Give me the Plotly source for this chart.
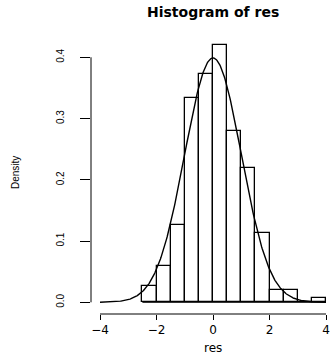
import plotly.graph_objects as go
import numpy as np

# Histogram data (bin edges and counts), n = 300
bin_edges = [-2.5, -2.0, -1.5, -1.0, -0.5, 0.0, 0.5, 1.0, 1.5, 2.0, 2.5, 3.0, 3.5, 4.0]
counts = [4, 9, 19, 50, 56, 63, 42, 33, 17, 3, 3, 0, 1]
n_obs = 300
x_ticks = [-4, -2, 0, 2, 4]
y_ticks = [0.0, 0.1, 0.2, 0.3, 0.4]
curve_range = [-4, 4]

edges = np.array(bin_edges)
widths = np.diff(edges)
centers = (edges[:-1] + edges[1:]) / 2
density = np.array(counts) / (n_obs * widths)

# standard normal density curve (curve(dnorm, -4, 4, add=TRUE))
xc = np.linspace(curve_range[0], curve_range[1], 401)
yc = np.exp(-xc ** 2 / 2) / np.sqrt(2 * np.pi)

W, H = 330, 355
L, R, T, B = 91, 0, 40, 41
pw, ph = W - L - R, H - T - B

def px_x(p):
    return (p - L) / pw

def px_y(p):
    return (H - B - p) / ph

fig = go.Figure()
fig.add_trace(go.Scatter(x=[edges[0], edges[-1]], y=[0, 0], mode="lines",
                         line=dict(color="black", width=1), hoverinfo="skip"))
fig.add_trace(go.Bar(x=centers, y=density, width=widths,
                     marker=dict(color="white", line=dict(color="black", width=1.3))))
fig.add_trace(go.Scatter(x=xc, y=yc, mode="lines",
                         line=dict(color="black", width=1.4)))

# R-style axis lines (only across tick range)
fig.add_shape(type="line", xref="x", yref="paper", x0=x_ticks[0], x1=x_ticks[-1],
              y0=0, y1=0, line=dict(color="black", width=1))
fig.add_shape(type="line", xref="paper", yref="y", x0=0, x1=0,
              y0=y_ticks[0], y1=y_ticks[-1], line=dict(color="black", width=1))

fig.update_xaxes(range=[-4.3186, 4.1416], tickvals=x_ticks, tickformat="d",
                 ticks="outside", ticklen=5, tickcolor="black", tickwidth=1,
                 showgrid=False, zeroline=False, showline=False,
                 tickfont=dict(family="DejaVu Sans", size=12, color="black"),
                 ticklabelstandoff=0)
fig.update_yaxes(range=[-0.0191, 0.4282], tickvals=y_ticks, tickformat=".1f",
                 ticks="outside", ticklen=10, tickcolor="black", tickwidth=1,
                 showgrid=False, zeroline=False, showline=False, tickangle=-90,
                 tickfont=dict(family="Liberation Sans", size=10, color="black"),
                 ticklabelstandoff=12)

fig.add_annotation(text="<b>Histogram of res</b>", xref="paper", yref="paper",
                   x=px_x(213), y=px_y(12.5), showarrow=False,
                   xanchor="center", yanchor="middle",
                   font=dict(family="DejaVu Sans", size=14, color="black"))
fig.add_annotation(text="res", xref="paper", yref="paper",
                   x=px_x(213), y=px_y(348), showarrow=False,
                   xanchor="center", yanchor="middle",
                   font=dict(family="DejaVu Sans", size=12, color="black"))
fig.add_annotation(text="Density", xref="paper", yref="paper",
                   x=px_x(15), y=px_y(173), showarrow=False, textangle=-90,
                   xanchor="center", yanchor="middle",
                   font=dict(family="Liberation Sans", size=10, color="black"))

fig.update_layout(width=W, height=H, margin=dict(l=L, r=R, t=T, b=B),
                  plot_bgcolor="white", paper_bgcolor="white",
                  showlegend=False, bargap=0)

fig.write_html("out.html")
